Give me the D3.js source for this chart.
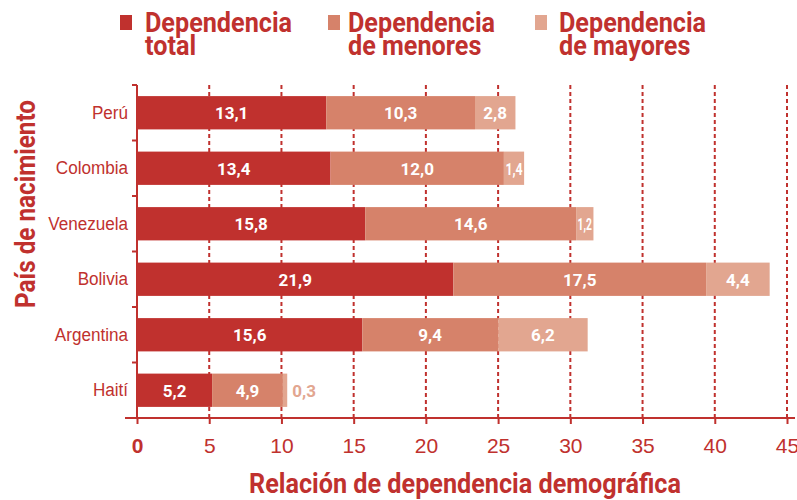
<!DOCTYPE html>
<html>
<head>
<meta charset="utf-8">
<script src="https://cdn.jsdelivr.net/npm/d3@7"></script>
<style>
  body { margin: 0; background: #fff; }
  svg { font-family: Roboto, "Noto Sans", sans-serif; }
</style>
</head>
<body>
<svg id="chart" width="797" height="500"></svg>
<script>
const countries = ["Perú", "Colombia", "Venezuela", "Bolivia", "Argentina", "Haití"];
const total   = [13.1, 13.4, 15.8, 21.9, 15.6, 5.2];
const menores = [10.3, 12.0, 14.6, 17.5, 9.4, 4.9];
const mayores = [2.8, 1.4, 1.2, 4.4, 6.2, 0.3];
const seriesNames = [["Dependencia", "total"], ["Dependencia", "de menores"], ["Dependencia", "de mayores"]];
const xTicks = [0, 5, 10, 15, 20, 25, 30, 35, 40, 45];

const red = "#c0312e";
const colors = ["#c0312e", "#d6826a", "#e2a690"];
const squeeze = "scale(0.9,1)"; // the original type is a condensed face

const svg = d3.select("#chart");
const margin = { top: 85, left: 137, right: 10, bottom: 82 };
const width = 797, height = 500;

const x = d3.scaleLinear().domain([0, 45]).range([margin.left, 787]);
const y = d3.scaleBand().domain(countries).range([margin.top, height - margin.bottom]).paddingInner(0.4).paddingOuter(0.2);

const rows = countries.map((c, i) => ({ country: c, s0: total[i], s1: menores[i], s2: mayores[i] }));
const stack = d3.stack().keys(["s0", "s1", "s2"])(rows);

// dotted grid
svg.append("g")
  .selectAll("line")
  .data(xTicks.filter(d => d > 0))
  .join("line")
  .attr("x1", d => x(d)).attr("x2", d => x(d))
  .attr("y1", margin.top).attr("y2", height - margin.bottom)
  .attr("stroke", red).attr("stroke-width", 2)
  .attr("stroke-dasharray", "4,3");

// bars
const layers = svg.append("g").selectAll("g")
  .data(stack)
  .join("g")
  .attr("fill", (d, i) => colors[i]);

layers.selectAll("rect")
  .data(d => d)
  .join("rect")
  .attr("x", d => x(d[0]))
  .attr("y", d => y(d.data.country))
  .attr("width", d => x(d[1]) - x(d[0]))
  .attr("height", y.bandwidth());

// value labels
const segW = d => x(d[1]) - x(d[0]);
stack.forEach((layer, li) => {
  const t = svg.append("g").selectAll("text")
    .data(layer)
    .join("text")
    .attr("x", d => segW(d) < 10 ? x(d[1]) + 5 : (x(d[0]) + x(d[1])) / 2)
    .attr("y", d => y(d.data.country) + y.bandwidth() / 2 + 6.5)
    .attr("text-anchor", d => segW(d) < 10 ? "start" : "middle")
    .attr("fill", d => segW(d) < 10 ? colors[2] : "#fff")
    .attr("font-weight", "bold")
    .attr("font-size", 17)
    .text(d => (d[1] - d[0]).toFixed(1).replace(".", ","));
  t.filter(d => segW(d) >= 10 && segW(d) < 30)
    .attr("textLength", d => segW(d) - 3)
    .attr("lengthAdjust", "spacingAndGlyphs");
});

// y axis
const yAxis = svg.append("g")
  .attr("transform", `translate(${margin.left},0)`)
  .call(d3.axisLeft(y).tickSize(0).tickPadding(10));
yAxis.select(".domain").remove();
yAxis.selectAll("text").attr("font-size", 19).attr("fill", red).attr("font-family", null)
  .attr("transform", squeeze);
svg.append("line")
  .attr("x1", margin.left).attr("x2", margin.left)
  .attr("y1", margin.top).attr("y2", height - margin.bottom)
  .attr("stroke", red).attr("stroke-width", 2);
const yEdges = countries.map(c => y(c) - y.step() * y.paddingInner() / 2).concat([margin.top]);
svg.append("g").selectAll("line")
  .data(yEdges)
  .join("line")
  .attr("x1", margin.left - 5).attr("x2", margin.left)
  .attr("y1", d => d).attr("y2", d => d)
  .attr("stroke", red).attr("stroke-width", 2);

// x axis
const xAxis = svg.append("g")
  .attr("transform", `translate(0,${height - margin.bottom})`)
  .call(d3.axisBottom(x).tickValues(xTicks).tickSize(6).tickPadding(14).tickFormat(d3.format("d")));
xAxis.select(".domain").attr("d", `M${margin.left - 12},0H${795}`).attr("stroke", red).attr("stroke-width", 2);
xAxis.selectAll(".tick line").attr("stroke", red).attr("stroke-width", 2);
xAxis.selectAll("text").attr("font-size", 21).attr("fill", red).attr("font-family", null)
  .attr("font-weight", d => d === 0 ? "bold" : null);

// axis titles
svg.append("text")
  .attr("transform", `translate(465,493) ${squeeze}`)
  .attr("text-anchor", "middle")
  .attr("font-size", 28).attr("font-weight", "bold").attr("fill", red)
  .text("Relación de dependencia demográfica");

svg.append("text")
  .attr("transform", `translate(35,204) rotate(-90) ${squeeze}`)
  .attr("text-anchor", "middle")
  .attr("font-size", 27).attr("font-weight", "bold").attr("fill", red)
  .text("País de nacimiento");

// legend
const legendX = [120, 328, 535];
const legendGap = [25, 20, 24];
const legend = svg.append("g").selectAll("g")
  .data(seriesNames)
  .join("g")
  .attr("transform", (d, i) => `translate(${legendX[i]},0)`);
legend.append("rect")
  .attr("x", 0).attr("y", 15).attr("width", 12).attr("height", 15)
  .attr("fill", (d, i) => colors[i]);
legend.append("text")
  .attr("transform", (d, i) => `translate(${legendGap[i]},32) ${squeeze}`)
  .attr("font-size", 28).attr("font-weight", "bold").attr("fill", red)
  .each(function(d) {
    d3.select(this).selectAll("tspan")
      .data(d)
      .join("tspan")
      .attr("x", 0)
      .attr("dy", (s, j) => j === 0 ? 0 : 23)
      .text(s => s);
  });
</script>
</body>
</html>
